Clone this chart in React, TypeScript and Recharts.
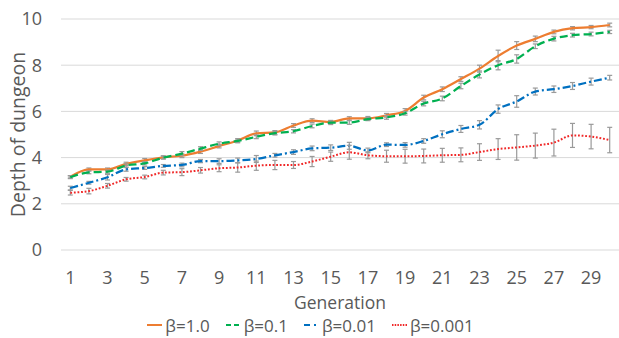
import React from 'react';
import { LineChart, Line, XAxis, YAxis, CartesianGrid, Legend, ErrorBar } from 'recharts';

const generations = [1,2,3,4,5,6,7,8,9,10,11,12,13,14,15,16,17,18,19,20,21,22,23,24,25,26,27,28,29,30];

const beta1 = [3.17,3.49,3.49,3.73,3.88,4.01,4.08,4.26,4.5,4.74,5.05,5.09,5.39,5.6,5.54,5.7,5.7,5.83,6.02,6.6,6.96,7.4,7.85,8.4,8.85,9.14,9.44,9.6,9.65,9.74];
const beta01 = [3.15,3.36,3.39,3.66,3.75,4.0,4.17,4.39,4.6,4.72,4.9,5.06,5.14,5.37,5.51,5.52,5.67,5.74,5.92,6.34,6.56,7.1,7.6,8.0,8.27,8.82,9.15,9.3,9.35,9.44];
const beta001 = [2.68,2.91,3.15,3.49,3.55,3.64,3.68,3.85,3.85,3.88,3.94,4.1,4.24,4.4,4.43,4.51,4.31,4.56,4.55,4.72,5.01,5.24,5.42,6.1,6.43,6.86,6.96,7.1,7.29,7.46];
const beta0001 = [2.48,2.55,2.78,3.06,3.16,3.35,3.37,3.45,3.54,3.57,3.65,3.68,3.68,3.83,4.04,4.23,4.1,4.06,4.06,4.07,4.1,4.12,4.24,4.37,4.44,4.52,4.65,4.96,4.91,4.76];

const err1 = [0.05,0.06,0.06,0.07,0.08,0.07,0.08,0.08,0.08,0.08,0.1,0.08,0.08,0.08,0.07,0.07,0.08,0.08,0.1,0.1,0.1,0.1,0.15,0.25,0.17,0.12,0.08,0.07,0.07,0.08];
const err01 = [0.06,0.06,0.07,0.07,0.07,0.06,0.09,0.08,0.08,0.08,0.08,0.08,0.07,0.08,0.08,0.08,0.07,0.08,0.08,0.1,0.1,0.12,0.15,0.2,0.18,0.1,0.1,0.08,0.08,0.07];
const err001 = [0.08,0.06,0.12,0.08,0.06,0.06,0.08,0.07,0.1,0.1,0.15,0.08,0.1,0.1,0.12,0.15,0.1,0.08,0.1,0.1,0.15,0.15,0.18,0.18,0.25,0.15,0.14,0.15,0.15,0.1];
const err0001 = [0.1,0.12,0.1,0.08,0.08,0.1,0.15,0.12,0.15,0.2,0.2,0.2,0.15,0.22,0.2,0.3,0.15,0.26,0.3,0.3,0.3,0.3,0.36,0.45,0.55,0.54,0.58,0.52,0.53,0.55];

const yTicks = [0, 2, 4, 6, 8, 10];

const series = [
  { key: 'b1', name: 'β=1.0', color: '#ED7D31', dash: undefined as string | undefined, width: 2.25, err: 'e1' },
  { key: 'b01', name: 'β=0.1', color: '#00B050', dash: '8 4', width: 2.25, err: 'e01' },
  { key: 'b001', name: 'β=0.01', color: '#0070C0', dash: '8 3 2 3', width: 2.25, err: 'e001' },
  { key: 'b0001', name: 'β=0.001', color: '#F02828', dash: '1.8 1.8', width: 2, err: 'e0001' },
];

const data = generations.map((g, i) => ({
  gen: g,
  b1: beta1[i], b01: beta01[i], b001: beta001[i], b0001: beta0001[i],
  e1: err1[i], e01: err01[i], e001: err001[i], e0001: err0001[i],
}));

const FONT = '"Open Sans", sans-serif';
const TEXT = '#595959';

const legendIconDash: Record<string, string | undefined> = {
  b1: undefined,
  b01: '5 3',
  b001: '6 4 2 3',
  b0001: '1.5 1.2',
};

const LegendContent = () => (
  <div style={{ display: 'flex', justifyContent: 'center', alignItems: 'center', height: 26, paddingLeft: 18, fontFamily: FONT, fontSize: 17, color: TEXT }}>
    {series.map((s) => (
      <div key={s.key} style={{ display: 'flex', alignItems: 'center', marginRight: 16 }}>
        <svg width={15} height={10} style={{ marginRight: 3 }}>
          <line x1={0} y1={5} x2={15} y2={5} stroke={s.color} strokeWidth={2} strokeDasharray={legendIconDash[s.key]} />
        </svg>
        <span>{s.name}</span>
      </div>
    ))}
  </div>
);

export default function App() {
  return (
    <div style={{ position: 'absolute', left: 0, top: 0, background: '#fff' }}>
      <LineChart width={619} height={338} data={data} margin={{ top: 19, right: 0, bottom: 0, left: 0 }}>
        <CartesianGrid vertical={false} stroke="#d9d9d9" strokeWidth={1} />
        <XAxis
          dataKey="gen"
          interval={1}
          axisLine={false}
          tickLine={false}
          tickSize={0}
          tickMargin={21}
          height={62}
          padding={{ left: 9.3, right: 9.3 }}
          tick={{ fill: TEXT, fontSize: 18, fontFamily: FONT }}
          label={{ value: 'Generation', position: 'insideBottom', offset: 3, fill: TEXT, fontSize: 17.5, fontFamily: FONT }}
        />
        <YAxis
          domain={[0, 10]}
          ticks={yTicks}
          axisLine={false}
          tickLine={false}
          tickSize={0}
          tickMargin={19}
          width={61}
          tick={{ fill: TEXT, fontSize: 18, fontFamily: FONT }}
          label={{ value: 'Depth of dungeon', angle: -90, position: 'insideLeft', offset: 18, fill: TEXT, fontSize: 19.5, fontFamily: FONT, style: { textAnchor: 'middle' } }}
        />
        <Legend verticalAlign="bottom" content={<LegendContent />} />
        {series.map((s) => (
          <Line
            key={s.key}
            dataKey={s.key}
            name={s.name}
            type="monotone"
            stroke={s.color}
            strokeWidth={s.width}
            strokeDasharray={s.dash}
            dot={false}
            activeDot={false}
            isAnimationActive={false}
          >
            <ErrorBar dataKey={s.err} width={2.5} stroke="#9a9a9a" strokeWidth={1.2} direction="y" isAnimationActive={false} />
          </Line>
        ))}
      </LineChart>
    </div>
  );
}
